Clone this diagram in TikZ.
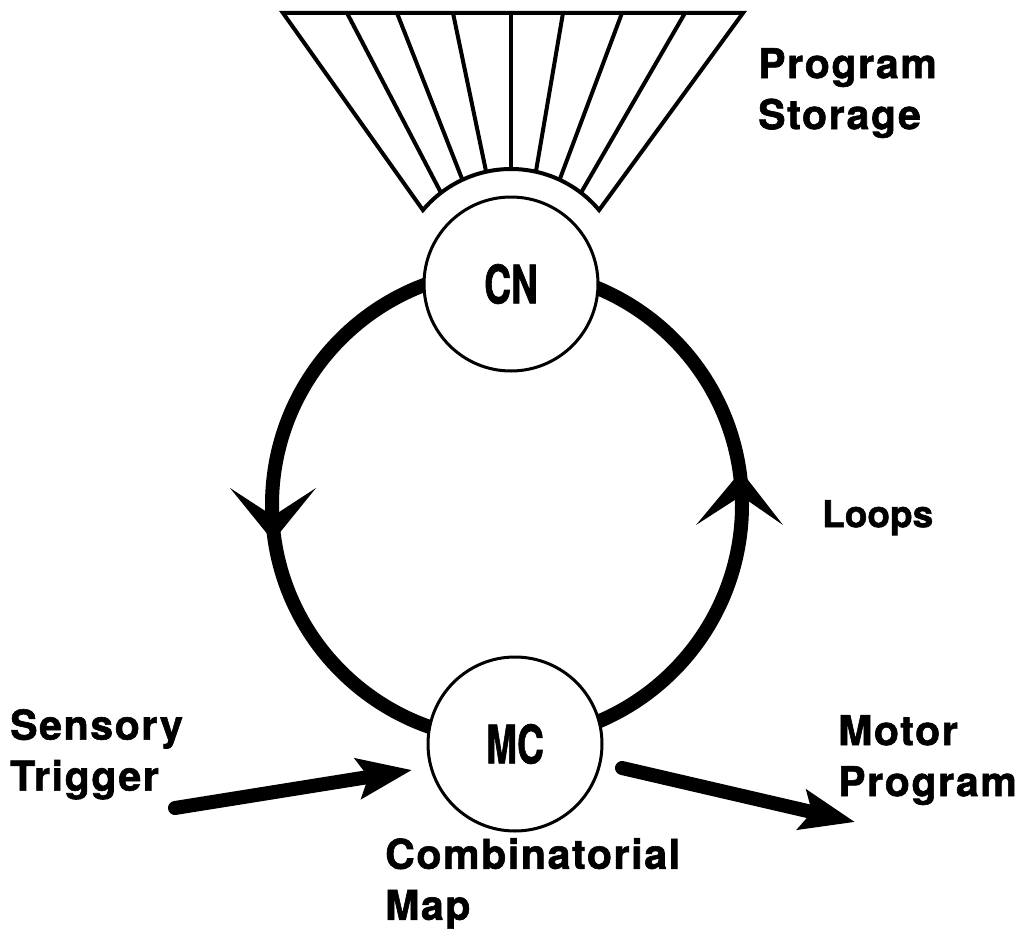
\documentclass[tikz,border=0pt]{standalone}
\usepackage{fontspec}
\setmainfont{TeX Gyre Heros}
\usetikzlibrary{arrows.meta}
\newcommand\lblfont{\fontsize{41}{51}\selectfont\bfseries\addfontfeature{LetterSpace=4,FakeBold=1.5}}
\newcommand\loopfont{\fontsize{37}{51}\selectfont\bfseries\addfontfeature{FakeBold=1.5}}
\newcommand\cirfont{\fontsize{53}{53}\selectfont\bfseries\addfontfeature{FakeBold=1.5}}
\begin{document}
\begin{tikzpicture}[x=1pt,y=-1pt,
  fanline/.style={line width=4pt, line join=miter},
  circ/.style={circle, draw, line width=3pt, fill=white, minimum size=174pt, inner sep=0pt, font=\cirfont},
  loopline/.style={line width=14pt},
  bigarrow/.style={line width=14pt, line cap=round, -{Stealth[length=54pt,width=40pt,inset=10pt]}},
  lbl/.style={anchor=north west, inner sep=0pt, align=left, font=\lblfont}]
\useasboundingbox (0,0) rectangle (1029,942);
\fill[white] (0,0) rectangle (1029,942);
% fan (program storage)
\coordinate (fc) at (511,284);
\draw[fanline] (283,13) -- (743,13) -- ([shift={(fc)}]-40:115) arc[start angle=-40, end angle=-140, radius=115] -- cycle;
\foreach \xt [count=\k] in {347,397,453,511,563,622,685}
  \draw[fanline] (\xt,13) -- ([shift={(fc)}]{-140+12.5*\k}:115);
% loop
\draw[loopline] (507,505) circle[radius=235];
% loop arrowheads
\fill (230,488) -- (273,541) -- (273,516) -- cycle;
\fill (316,488) -- (273,541) -- (273,516) -- cycle;
\fill (696,525) -- (741,471) -- (741,496) -- cycle;
\fill (783,525) -- (741,471) -- (741,496) -- cycle;
% nodes
\node[circ] (cn) at (511,284) {\scalebox{0.7}[1]{CN}};
\node[circ] (mc) at (515,744) {\scalebox{0.7}[1]{MC}};
% input / output arrows
\coordinate (stail) at (175,808);
\coordinate (stip) at (412,770);
\coordinate (mtail) at (622,768);
\coordinate (mtip) at (855,822);
\draw[bigarrow] (stail) -- (stip);
\draw[bigarrow] (mtail) -- (mtip);
% labels
\node[lbl] (ps) at (758,48) {Program\\Storage};
\node[lbl, font=\loopfont] (lp) at (822,500) {Loops};
\node[lbl] (st) at (10,709) {Sensory\\Trigger};
\node[lbl] (mp) at (838,715) {Motor\\Program};
\node[lbl] (cm) at (385,838) {Combinatorial\\Map};
\end{tikzpicture}
\end{document}
